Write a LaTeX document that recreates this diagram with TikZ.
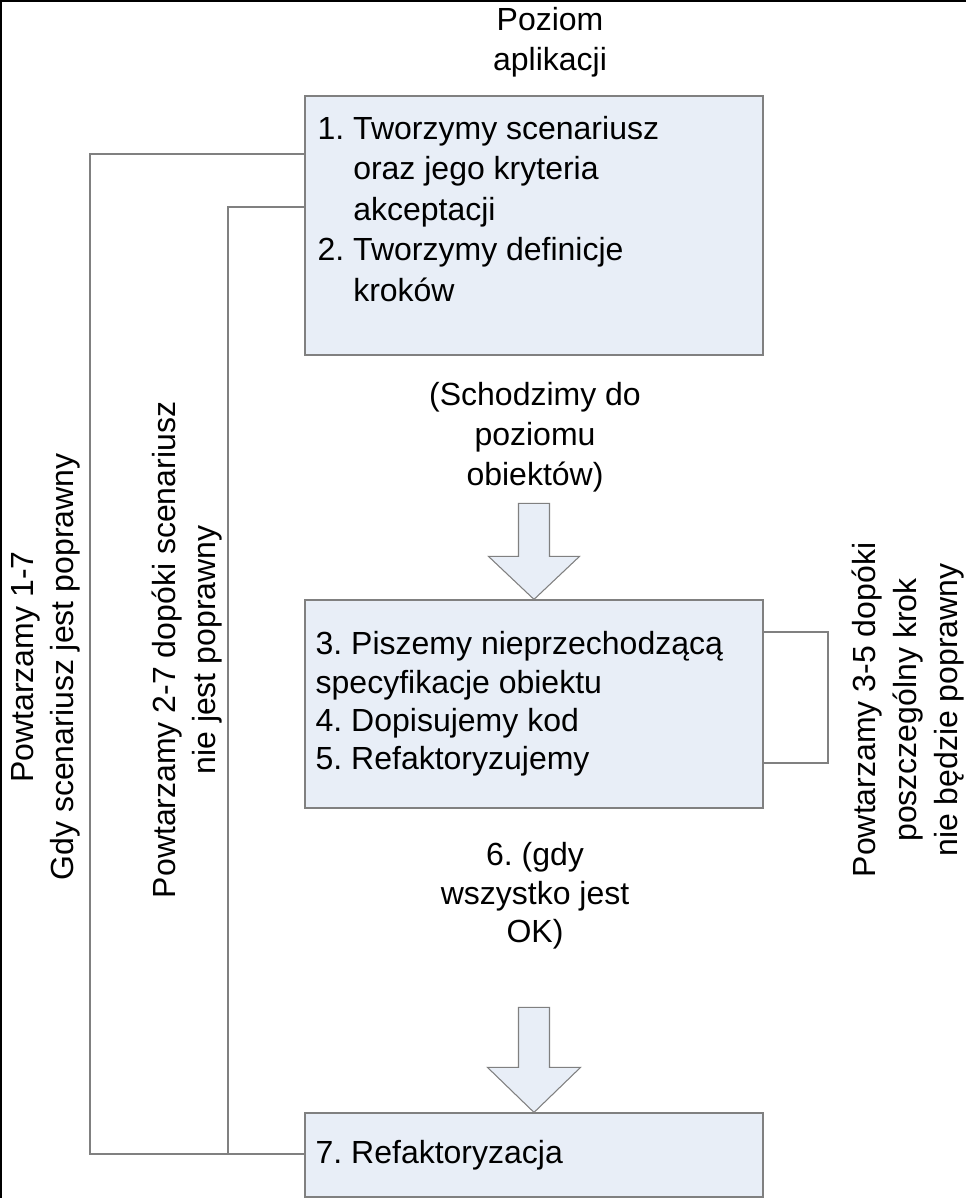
\documentclass[tikz,border=0pt]{standalone}
\usepackage{fontspec}
\setmainfont{Liberation Sans}
\usepackage{tikz}
\usetikzlibrary{calc,positioning}
\definecolor{boxfill}{RGB}{232,238,247}
\definecolor{edgegray}{RGB}{128,128,128}
\frenchspacing

\begin{document}
\begin{tikzpicture}[x=0.75pt,y=-0.75pt,
  stepbox/.style={draw=edgegray, fill=boxfill, line width=0.9pt, minimum width=343.5pt, inner sep=0pt},
  steptext/.style={font=\fontsize{24}{30.4}\selectfont, align=left, inner sep=0pt},
  note/.style={font=\fontsize{24}{30}\selectfont, align=center, inner sep=0pt},
  loopline/.style={draw=edgegray, line width=0.8pt},
  blockarrow/.style={draw=edgegray, fill=boxfill, line width=0.8pt, line join=miter}]
\useasboundingbox (0,0) rectangle (966,1198);
\draw[black, line width=2.5pt] (0,1198) -- (0,0) -- (966,0);

\node[stepbox, minimum height=194.25pt] (app) at (534,225.5) {};
\node[stepbox, minimum height=156pt] (obj) at (534,704) {};
\node[stepbox, minimum height=63pt] (ref) at (534,1155) {};

\node[steptext, anchor=base west] (apptext) at ($(app.north west)+(13,44)$)
  {\begin{tabular}[t]{@{}l@{\ }l@{}}
   1. & Tworzymy scenariusz\\
      & oraz jego kryteria\\
      & akceptacji\\
   2. & Tworzymy definicje\\
      & kroków
   \end{tabular}};
\node[steptext, font=\fontsize{24}{28.8}\selectfont, anchor=west] (objtext) at ($(obj.west)+(11,0)$)
  {3. Piszemy nieprzechodzącą\\specyfikacje obiektu\\4. Dopisujemy kod\\5. Refaktoryzujemy};
\node[steptext, anchor=west] (reftext) at ($(ref.west)+(11,0)$) {7. Refaktoryzacja};

\node[note] (level) at (550,42) {Poziom\\aplikacji};
\node[note] (down) at (535,437) {(Schodzimy do\\poziomu\\obiektów)};
\node[note, font=\fontsize{24}{29}\selectfont] (ok) at (535,896) {6. (gdy\\wszystko jest\\OK)};

\draw[blockarrow] (obj.north) -- ++(-45.5,-43) -- ++(30,0) -- ++(0,-53) -- ++(31,0)
  -- ++(0,53) -- ++(30,0) -- cycle;
\draw[blockarrow] (ref.north) -- ++(-46.5,-45) -- ++(31,0) -- ++(0,-60) -- ++(31,0)
  -- ++(0,60) -- ++(31,0) -- cycle;

\coordinate (outerT) at (90,154);
\coordinate (outerB) at (90,1154);
\coordinate (innerT) at (228,207);
\coordinate (innerB) at (228,1154);
\coordinate (loopT) at (828,632);
\coordinate (loopB) at (828,763);
\draw[loopline] (app.west |- outerT) -- (outerT) -- (outerB) -- (ref.west |- outerB);
\draw[loopline] (app.west |- innerT) -- (innerT) -- (innerB);
\draw[loopline] (obj.east |- loopT) -- (loopT) -- (loopB) -- (obj.east |- loopB);

\node[note, rotate=90] (all) at (46,667) {Powtarzamy 1-7\\Gdy scenariusz jest poprawny};
\node[note, rotate=90] (scen) at (187,650) {Powtarzamy 2-7 dopóki scenariusz\\nie jest poprawny};
\node[note, rotate=90, font=\fontsize{24}{31}\selectfont] (steps) at (908,710)
  {Powtarzamy 3-5 dopóki\\poszczególny krok\\nie będzie poprawny};
\end{tikzpicture}
\end{document}
